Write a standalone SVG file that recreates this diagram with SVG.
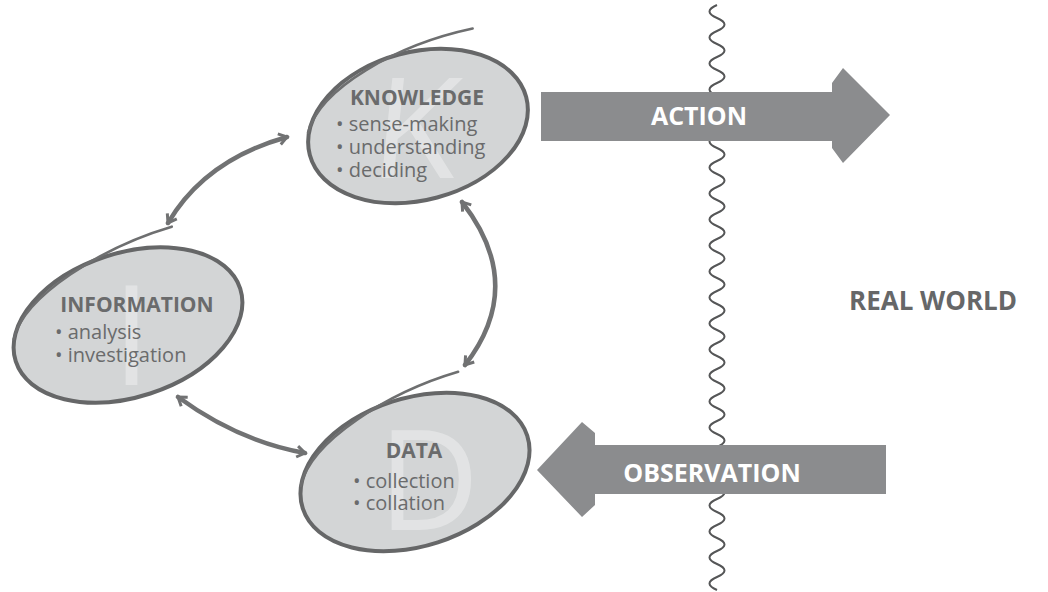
<svg xmlns="http://www.w3.org/2000/svg" width="1048" height="592" viewBox="0 0 1048 592">
<style>
.ell{fill:#d3d5d6;stroke:none}
.ring{fill:none;stroke:#666768;stroke-width:4}
.tail{fill:none;stroke:#6e6f70;stroke-width:2.6;stroke-linecap:round}
.big{font-family:"Open Sans",sans-serif;font-size:140px;fill:#ffffff;opacity:0.35}
.ttl{font-family:"Open Sans",sans-serif;font-weight:bold;font-size:21px;fill:#6a6b6c;text-anchor:middle}
.bul{font-family:"Open Sans",sans-serif;font-size:20px;fill:#6a6b6c}
.arr{fill:#8b8c8e}
.alab{font-family:"Open Sans",sans-serif;font-weight:bold;font-size:25px;fill:#ffffff;text-anchor:middle}
.conn{fill:none;stroke:#717273;stroke-width:4.5;stroke-linecap:round}
.wave{fill:none;stroke:#555657;stroke-width:2}
.rw{font-family:"Open Sans",sans-serif;font-weight:bold;font-size:26px;fill:#666768}
</style>
<defs>
<marker id="ah" viewBox="0 0 14 14" refX="11" refY="7" markerWidth="14" markerHeight="14" markerUnits="userSpaceOnUse" orient="auto-start-reverse">
<path d="M3,1.5 L11,7 L3,12.5" fill="none" stroke="#717273" stroke-width="3"/>
</marker>
</defs>
<rect width="1048" height="592" fill="#ffffff"/>

<g id="boundary">
<path class="wave" d="M717,5 q-15,6.5 0,13 t0,13 t0,13 t0,13 t0,13 t0,13 t0,13 t0,13 t0,13 t0,13 t0,13 t0,13 t0,13 t0,13 t0,13 t0,13 t0,13 t0,13 t0,13 t0,13 t0,13 t0,13 t0,13 t0,13 t0,13 t0,13 t0,13 t0,13 t0,13 t0,13 t0,13 t0,13 t0,13 t0,13 t0,13 t0,13 t0,13 t0,13 t0,13 t0,13 t0,13 t0,13 t0,13 t0,13 t0,13"/>
</g>

<g id="action">
<polygon class="arr" points="541,92 832,92 832,83 843,68 890,115 843,163 832,148 832,141 541,141"/>
<text class="alab" x="699" y="125">ACTION</text>
</g>

<g id="observation">
<polygon class="arr" points="886,445 595,445 595,433 582,422 537,470 582,517 595,505 595,494 886,494"/>
<text class="alab" x="712" y="482">OBSERVATION</text>
</g>

<g id="real-world">
<text class="rw" x="849" y="310">REAL WORLD</text>
</g>

<g id="knowledge">
<g transform="translate(418,126) rotate(-15)">
<ellipse class="ell" cx="0" cy="0" rx="112" ry="74"/>
<ellipse class="ring" cx="0" cy="0" rx="112" ry="74"/>
<path class="tail" d="M-108,-22 C-85,-62 0,-84 78,-80"/>
</g>
<text class="big" x="372" y="178" transform="skewX(-6) translate(15,0)">K</text>
<text class="ttl" x="417" y="105">KNOWLEDGE</text>
<text class="bul" x="336" y="131">• sense-making</text>
<text class="bul" x="336" y="154">• understanding</text>
<text class="bul" x="336" y="177">• deciding</text>
</g>

<g id="information">
<g transform="translate(128,325) rotate(-18)">
<ellipse class="ell" cx="0" cy="0" rx="118" ry="72"/>
<ellipse class="ring" cx="0" cy="0" rx="118" ry="72"/>
<path class="tail" d="M-113,-22 C-90,-60 0,-82 72,-80"/>
</g>
<text class="big" x="112" y="385">I</text>
<text class="ttl" x="137" y="312">INFORMATION</text>
<text class="bul" x="55" y="339">• analysis</text>
<text class="bul" x="55" y="362">• investigation</text>
</g>

<g id="data">
<g transform="translate(415,472) rotate(-18)">
<ellipse class="ell" cx="0" cy="0" rx="118" ry="74"/>
<ellipse class="ring" cx="0" cy="0" rx="118" ry="74"/>
<path class="tail" d="M-113,-22 C-90,-62 0,-84 72,-82"/>
</g>
<text class="big" x="378" y="530">D</text>
<text class="ttl" x="414" y="458">DATA</text>
<text class="bul" x="353" y="488">• collection</text>
<text class="bul" x="353" y="510">• collation</text>
</g>

<g id="connectors">
<path class="conn" d="M168,223 Q205,160 287,137" marker-start="url(#ah)" marker-end="url(#ah)"/>
<path class="conn" d="M178,397 Q238,441 305,453" marker-start="url(#ah)" marker-end="url(#ah)"/>
<path class="conn" d="M462,202 Q527,285 465,365" marker-start="url(#ah)" marker-end="url(#ah)"/>
</g>
</svg>
